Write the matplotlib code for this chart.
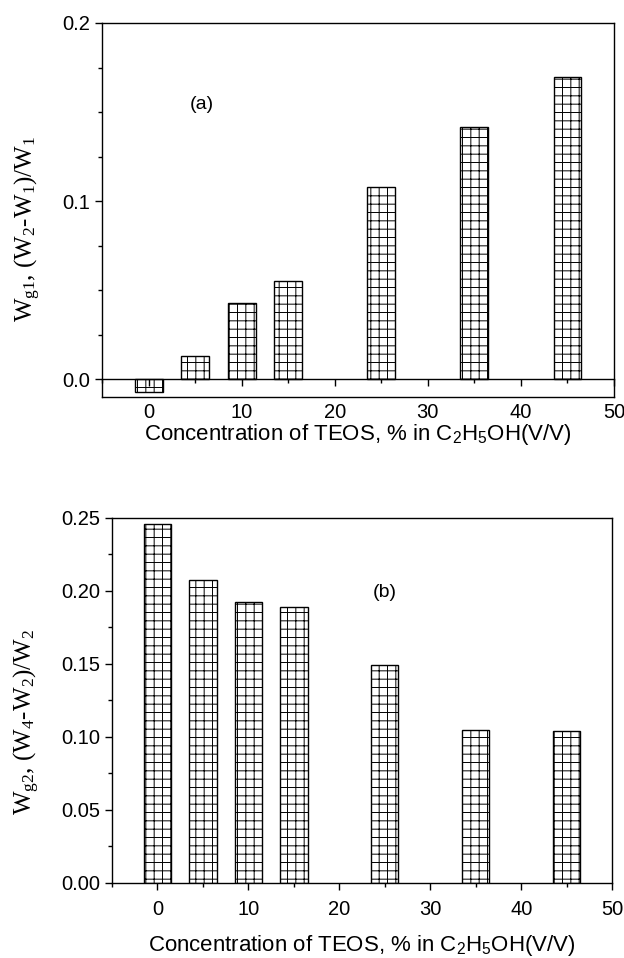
import matplotlib
matplotlib.use('Agg')
import matplotlib.pyplot as plt
from matplotlib.ticker import MultipleLocator, FormatStrFormatter

plt.rcParams['font.family'] = ['Liberation Sans', 'DejaVu Sans']
plt.rcParams['mathtext.default'] = 'regular'
plt.rcParams['hatch.linewidth'] = 0.7

# TEOS concentration, % in ethanol
conc = [0, 5, 10, 15, 25, 35, 45]
# (a) Wg1 = (W2-W1)/W1
wg1 = [-0.0073, 0.0131, 0.043, 0.0551, 0.1077, 0.1415, 0.1699]
# (b) Wg2 = (W4-W2)/W2
wg2 = [0.2461, 0.2078, 0.1928, 0.1891, 0.1493, 0.1051, 0.1044]

xlab = 'Concentration of TEOS, % in C$_2$H$_5$OH(V/V)'
fig = plt.figure(figsize=(6.24, 9.58), dpi=100)

ax1 = fig.add_axes([0.1635, 0.5856, 0.8205, 0.3904])
ax2 = fig.add_axes([0.1795, 0.0783, 0.8015, 0.3810])

for ax in (ax1, ax2):
    ax.bar(conc, wg1 if ax is ax1 else wg2, width=3, color='white',
           edgecolor='black', linewidth=1, hatch='++')
    ax.set_xlim(-5, 50)
    ax.xaxis.set_major_locator(MultipleLocator(10))
    ax.xaxis.set_minor_locator(MultipleLocator(5))
    ax.tick_params(which='both', direction='out', labelsize=14.5, width=1,
                   top=False, right=False)
    ax.tick_params(which='major', length=5)
    ax.tick_params(which='minor', length=3)
    for s in ax.spines.values():
        s.set_linewidth(1)

# (a)
ax1.set_ylim(-0.01, 0.2)
ax1.yaxis.set_major_locator(MultipleLocator(0.1))
ax1.yaxis.set_minor_locator(MultipleLocator(0.025))
ax1.yaxis.set_major_formatter(FormatStrFormatter('%.1f'))
ax1.spines['bottom'].set_position(('data', 0))
ax1.plot([0, 1], [0, 0], transform=ax1.transAxes, color='black', lw=1, clip_on=False)
ax1.tick_params(axis='x', pad=12)
ax1.set_xlabel(xlab, fontsize=16, labelpad=0)
ax1.set_ylabel('W$_{g1}$, (W$_2$-W$_1$)/W$_1$', fontsize=18,
               family='Liberation Serif')
ax1.yaxis.set_label_coords(-0.115, 0.45)
ax1.text(5.7, 0.154, '(a)', fontsize=14, ha='center', va='center')

# (b)
ax2.set_ylim(0, 0.25)
ax2.yaxis.set_major_locator(MultipleLocator(0.05))
ax2.yaxis.set_minor_locator(MultipleLocator(0.025))
ax2.yaxis.set_major_formatter(FormatStrFormatter('%.2f'))
ax2.tick_params(axis='x', pad=7)
ax2.set_xlabel(xlab, fontsize=16, labelpad=10)
ax2.set_ylabel('W$_{g2}$, (W$_4$-W$_2$)/W$_2$', fontsize=18,
               family='Liberation Serif')
ax2.yaxis.set_label_coords(-0.14, 0.44)
ax2.text(25, 0.199, '(b)', fontsize=14, ha='center', va='center')

fig.savefig('out.png', dpi=100)
